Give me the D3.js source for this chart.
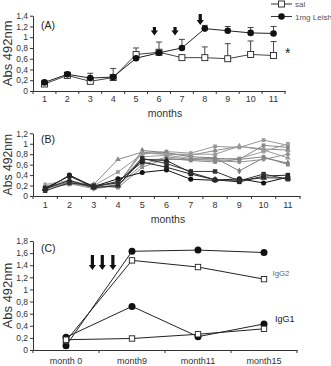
<!DOCTYPE html>
<html><head><meta charset="utf-8">
<script src="https://cdn.jsdelivr.net/npm/d3@7"></script>
<style>body{margin:0;background:#fff}svg{display:block;font-family:"Liberation Sans",Arial,sans-serif}</style>
</head><body><svg id="c" width="331" height="366"></svg>
<script>
// ---------- DATA ----------
const monthsA = [1,2,3,4,5,6,7,8,9,10,11];
const salA    = [0.13,0.29,0.18,0.25,0.68,0.72,0.62,0.62,0.60,0.68,0.66];
const salErrA = [0.02,0.03,0.00,0.00,0.12,0.19,0.00,0.20,0.28,0.25,0.26];
const leishA  = [0.16,0.31,0.24,0.26,0.61,0.71,0.80,1.16,1.12,1.08,1.07];
const leishErrA=[0.02,0.04,0.09,0.16,0.00,0.00,0.16,0.06,0.08,0.10,0.13];
const arrowsA = [5.8,6.7,7.8];   // arrow positions (months, fractional)
const yTicksA = [0,0.2,0.4,0.6,0.8,1,1.2,1.4];

const monthsB = [1,2,3,4,5,6,7,8,9,10,11];
const darkB = [
  [0.12,0.40,0.18,0.33,0.45,0.50,0.32,0.30,0.33,0.25,0.36],
  [0.15,0.38,0.17,0.28,0.65,0.55,0.42,0.31,0.27,0.38,0.40],
  [0.10,0.25,0.20,0.25,0.72,0.62,0.47,0.47,0.29,0.42,0.32],
  [0.14,0.30,0.16,0.20,0.70,0.68,0.45,0.31,0.30,0.35,0.34]
];
const grayB = [
  [0.20,0.25,0.22,0.70,0.84,0.80,0.78,0.87,0.95,0.90,0.88],
  [0.18,0.22,0.20,0.46,0.80,0.85,0.82,0.95,0.93,1.07,0.97],
  [0.16,0.28,0.15,0.22,0.87,0.83,0.75,0.73,0.48,0.73,0.63],
  [0.22,0.30,0.18,0.18,0.75,0.78,0.72,0.70,0.72,0.85,1.00],
  [0.13,0.24,0.14,0.20,0.60,0.75,0.70,0.68,0.65,0.70,0.80],
  [0.17,0.27,0.21,0.16,0.55,0.72,0.68,0.65,0.70,0.97,0.93],
  [0.19,0.23,0.19,0.24,0.82,0.80,0.80,0.80,0.95,0.88,0.73],
  [0.15,0.26,0.17,0.19,0.70,0.70,0.70,0.72,0.70,0.75,0.60]
];
const yTicksB = [0,0.2,0.4,0.6,0.8,1,1.2];

const timesC = ["month 0","month9","month11","month15"];
const igg2Leish = [0.07,1.63,1.65,1.61];
const igg2Sal   = [0.15,1.48,1.37,1.17];
const igg1Leish = [0.21,0.72,0.22,0.43];
const igg1Sal   = [0.17,0.19,0.26,0.35];
const arrowsC = [0.4,0.55,0.71]; // fractional band positions
const yTicksC = [0,0.2,0.4,0.6,0.8,1,1.2,1.4,1.6,1.8];

// ---------- DRAW ----------
const svg = d3.select("#c");
const fmt = d => String(Math.round(d*10)/10).replace(".", ",");

function panel(cfg){
  const g = svg.append("g");
  const x = d3.scaleBand().domain(cfg.cats).range([33, cfg.xEnd]);
  const y = d3.scaleLinear().domain([0, cfg.yMax]).range([cfg.y0, cfg.yTop]);
  const ya = g.append("g").attr("transform","translate(33,0)")
    .call(d3.axisLeft(y).tickValues(cfg.yTicks).tickFormat(fmt).tickSizeInner(3).tickSizeOuter(0).tickPadding(2));
  ya.selectAll("text").attr("font-size",8.5).attr("fill","#333");
  ya.selectAll("line,path").attr("stroke","#333");
  const xa = g.append("g").attr("transform",`translate(0,${cfg.y0})`)
    .call(d3.axisBottom(x).tickSize(0).tickPadding(cfg.xPad));
  xa.selectAll("text").attr("font-size",9).attr("fill","#333");
  xa.select("path").attr("stroke","#333");
  const bounds = cfg.cats.map(c=>x(c)).concat([x.range()[1]]);
  g.selectAll(".bt").data(bounds).join("line")
    .attr("x1",d=>d).attr("x2",d=>d).attr("y1",cfg.y0).attr("y2",cfg.y0+3).attr("stroke","#333");
  g.append("text").attr("transform",`translate(${cfg.ylx},${(cfg.y0+cfg.yTop)/2}) rotate(-90)`)
    .attr("text-anchor","middle").attr("font-size",cfg.ylSize).attr("fill","#333").text("Abs 492nm");
  g.append("text").attr("x",41).attr("y",cfg.tagY).attr("font-size",10.5).attr("fill","#222").text(cfg.tag);
  if(cfg.xTitle){
    g.append("text").attr("x",cfg.xTitleX).attr("y",cfg.xTitleY).attr("text-anchor","middle")
      .attr("font-size",10.5).attr("fill","#333").text(cfg.xTitle);
  }
  return {g,x,y};
}

function arrow(g, cx, yTop, yBot){
  const hw = 3.6, sw = 1.6, hl = 5;
  g.append("path").attr("d",
    `M${cx-sw},${yTop} L${cx+sw},${yTop} L${cx+sw},${yBot-hl} L${cx+hw},${yBot-hl} L${cx},${yBot} L${cx-hw},${yBot-hl} L${cx-sw},${yBot-hl} Z`)
    .attr("fill","#111");
}

// Panel A
{
  const {g,x,y} = panel({cats:monthsA, xEnd:285, yMax:1.4, y0:91, yTop:15.7, yTicks:yTicksA,
    xPad:5, ylx:12, ylSize:13, tag:"(A)", tagY:29, xTitle:"months", xTitleX:165, xTitleY:117});
  const cx = m => x(m)+x.bandwidth()/2;
  const line = d3.line().x((d,i)=>cx(monthsA[i])).y(d=>y(d));
  function errs(vals, errsArr){
    monthsA.forEach((m,i)=>{
      if(errsArr[i]<=0.005) return;
      const yt = y(vals[i]+errsArr[i]);
      g.append("line").attr("x1",cx(m)).attr("x2",cx(m)).attr("y1",y(vals[i])).attr("y2",yt).attr("stroke","#333").attr("stroke-width",0.9);
      g.append("line").attr("x1",cx(m)-3).attr("x2",cx(m)+3).attr("y1",yt).attr("y2",yt).attr("stroke","#333").attr("stroke-width",0.9);
    });
  }
  errs(salA, salErrA); errs(leishA, leishErrA);
  g.append("path").datum(salA).attr("d",line).attr("fill","none").attr("stroke","#444").attr("stroke-width",1);
  g.append("path").datum(leishA).attr("d",line).attr("fill","none").attr("stroke","#222").attr("stroke-width",1);
  g.selectAll(".sq").data(salA).join("rect").attr("x",(d,i)=>cx(monthsA[i])-3).attr("y",d=>y(d)-3)
    .attr("width",6).attr("height",6).attr("fill","#fff").attr("stroke","#222").attr("stroke-width",0.9);
  g.selectAll(".ci").data(leishA).join("circle").attr("cx",(d,i)=>cx(monthsA[i])).attr("cy",d=>y(d))
    .attr("r",3.3).attr("fill","#111");
  const ax = m => cx(Math.floor(m)) + (m-Math.floor(m))*x.step();
  arrow(g, ax(arrowsA[0]), 27, 35.5);
  arrow(g, ax(arrowsA[1]), 27, 35.5);
  arrow(g, ax(arrowsA[2]), 14, 25);
  g.append("line").attr("x1",271).attr("x2",292).attr("y1",4).attr("y2",4).attr("stroke","#333");
  g.append("rect").attr("x",278.5).attr("y",1).attr("width",6).attr("height",6).attr("fill","#fff").attr("stroke","#222").attr("stroke-width",0.9);
  g.append("text").attr("x",295).attr("y",7).attr("font-size",8).attr("fill","#555").text("sal");
  g.append("line").attr("x1",271).attr("x2",292).attr("y1",16.5).attr("y2",16.5).attr("stroke","#333");
  g.append("circle").attr("cx",281.5).attr("cy",16.5).attr("r",3.3).attr("fill","#111");
  g.append("text").attr("x",295).attr("y",19.5).attr("font-size",8).attr("fill","#555").text("1mg Leish");
  g.append("text").attr("x",285).attr("y",58).attr("font-size",14).attr("fill","#222").text("*");
}

// Panel B
{
  const {g,x,y} = panel({cats:monthsB, xEnd:300, yMax:1.2, y0:196, yTop:133.3, yTicks:yTicksB,
    xPad:6, ylx:12, ylSize:12.2, tag:"(B)", tagY:143, xTitle:"months", xTitleX:168, xTitleY:223});
  const cx = m => x(m)+x.bandwidth()/2;
  const line = d3.line().x((d,i)=>cx(monthsB[i])).y(d=>y(d));
  const grayCols = ["#8a8a8a","#999","#7a7a7a","#a0a0a0","#909090","#888","#9a9a9a","#858585"];
  const grayShapes = [d3.symbolTriangle,d3.symbolSquare,d3.symbolDiamond,d3.symbolSquare,d3.symbolCircle,d3.symbolSquare,d3.symbolTriangle,d3.symbolSquare];
  grayB.forEach((s,k)=>{
    g.append("path").datum(s).attr("d",line).attr("fill","none").attr("stroke",grayCols[k]).attr("stroke-width",1);
    g.selectAll(".gm"+k).data(s).join("path").attr("transform",(d,i)=>`translate(${cx(monthsB[i])},${y(d)})`)
      .attr("d",d3.symbol().type(grayShapes[k]).size(14)).attr("fill",grayCols[k]);
  });
  const darkCols = ["#111","#222","#333","#2a2a2a"];
  const darkShapes = [d3.symbolCircle,d3.symbolSquare,d3.symbolSquare,d3.symbolTriangle];
  darkB.forEach((s,k)=>{
    g.append("path").datum(s).attr("d",line).attr("fill","none").attr("stroke",darkCols[k]).attr("stroke-width",1);
    g.selectAll(".dm"+k).data(s).join("path").attr("transform",(d,i)=>`translate(${cx(monthsB[i])},${y(d)})`)
      .attr("d",d3.symbol().type(darkShapes[k]).size(20)).attr("fill",darkCols[k]);
  });
}

// Panel C
{
  const {g,x,y} = panel({cats:timesC, xEnd:297, yMax:1.8, y0:350, yTop:241, yTicks:yTicksC,
    xPad:8, ylx:12, ylSize:13, tag:"(C)", tagY:252, xTitle:null});
  const cx = c => x(c)+x.bandwidth()/2;
  const line = d3.line().x((d,i)=>cx(timesC[i])).y(d=>y(d));
  const series = [[igg2Leish,true],[igg2Sal,false],[igg1Leish,true],[igg1Sal,false]];
  series.forEach(([s,filled])=>{
    g.append("path").datum(s).attr("d",line).attr("fill","none").attr("stroke","#222").attr("stroke-width",1);
  });
  series.forEach(([s,filled])=>{
    if(filled){
      g.selectAll(null).data(s).join("circle").attr("cx",(d,i)=>cx(timesC[i])).attr("cy",d=>y(d)).attr("r",3.5).attr("fill","#111");
    } else {
      g.selectAll(null).data(s).join("rect").attr("x",(d,i)=>cx(timesC[i])-2.7).attr("y",d=>y(d)-2.7)
        .attr("width",5.4).attr("height",5.4).attr("fill","#fff").attr("stroke","#222").attr("stroke-width",0.9);
    }
  });
  arrowsC.forEach(f=>arrow(g, x(timesC[0]) + x.step()*(0.5+f), 255, 270));
  g.append("text").attr("x",272.5).attr("y",276).attr("font-size",7.8).attr("fill","#666").text("IgG2");
  g.append("text").attr("x",275).attr("y",321.5).attr("font-size",9).attr("fill","#222").text("IgG1");
}
</script></body></html>
